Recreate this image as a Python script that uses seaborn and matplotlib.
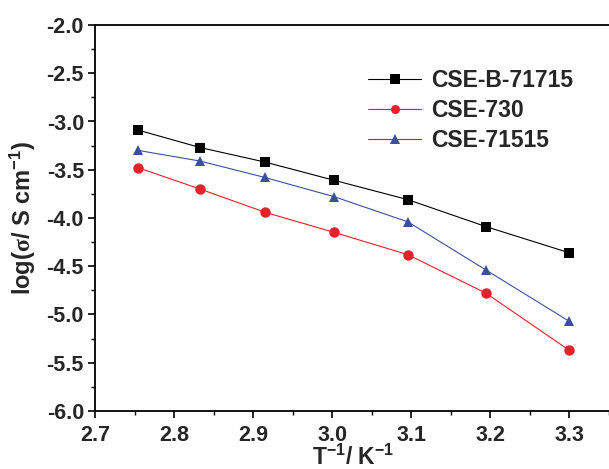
import matplotlib
matplotlib.use("Agg")
import matplotlib.pyplot as plt
import seaborn as sns
import pandas as pd
from matplotlib.ticker import AutoMinorLocator

# Data
inv_T = [2.755, 2.833, 2.915, 3.003, 3.096, 3.195, 3.300]
series_names = ["CSE-B-71715", "CSE-730", "CSE-71515"]
cse_b_71715 = [-3.09, -3.27, -3.42, -3.61, -3.81, -4.09, -4.36]
cse_730 = [-3.48, -3.70, -3.94, -4.15, -4.38, -4.78, -5.37]
cse_71515 = [-3.30, -3.41, -3.58, -3.78, -4.04, -4.54, -5.07]
x_ticks = [2.7, 2.8, 2.9, 3.0, 3.1, 3.2, 3.3]
y_ticks = [-2.0, -2.5, -3.0, -3.5, -4.0, -4.5, -5.0, -5.5, -6.0]

sns.set_style("ticks")
plt.rcParams["font.family"] = ["Liberation Sans", "DejaVu Sans"]
plt.rcParams["font.weight"] = "bold"
plt.rcParams["mathtext.fontset"] = "custom"
plt.rcParams["mathtext.rm"] = "Liberation Sans:bold"
plt.rcParams["mathtext.sf"] = "Liberation Serif"
plt.rcParams["mathtext.default"] = "regular"

df = pd.concat([
    pd.DataFrame({"x": inv_T, "y": vals, "series": name})
    for name, vals in zip(series_names, [cse_b_71715, cse_730, cse_71515])
])

W, H = 609, 469
fig = plt.figure(figsize=(W / 100, H / 100), dpi=100)
# axes extends to the right edge (reference is cropped there)
ax = fig.add_axes([95 / W, 1 - 411 / H, 516 / W, 386 / H])

palette = {"CSE-B-71715": "#000000", "CSE-730": "#e8202a", "CSE-71515": "#3a4fa0"}
markers = {"CSE-B-71715": "s", "CSE-730": "o", "CSE-71515": "^"}
sns.lineplot(data=df, x="x", y="y", hue="series", style="series",
             palette=palette, markers=markers, dashes=False,
             markersize=7.5, markeredgewidth=0, linewidth=0.8, ax=ax, legend=False)

handles = [plt.Line2D([], [], color=palette[n], marker=markers[n], markersize=6.5,
                      markeredgewidth=0, linewidth=0.8) for n in series_names]
leg = ax.legend(handles, series_names, loc="upper left",
                bbox_to_anchor=(357 / W, 1 - 58 / H), bbox_transform=fig.transFigure,
                frameon=False, borderpad=0, handlelength=2.3, labelspacing=0.3,
                handletextpad=0.45, prop={"weight": "bold", "size": 16.5})

ax.set_xlim(2.7, 3.353)
ax.set_ylim(-6.0, -2.0)
ax.set_xticks(x_ticks)
ax.set_yticks(y_ticks)
ax.set_xticklabels([f"{t:.1f}" for t in x_ticks], fontsize=15.5, fontweight="bold")
ax.set_yticklabels([f"{t:.1f}" for t in y_ticks], fontsize=15.5, fontweight="bold")
ax.xaxis.set_minor_locator(AutoMinorLocator(2))
ax.yaxis.set_minor_locator(AutoMinorLocator(2))
ax.tick_params(which="major", direction="out", length=5, width=1.2, color="black")
ax.tick_params(which="minor", direction="out", length=3, width=1.0, color="black")
ax.tick_params(axis="y", pad=3)
ax.tick_params(axis="x", pad=5)
for s in ["left", "bottom", "top"]:
    ax.spines[s].set_linewidth(1.3)
    ax.spines[s].set_color("black")
ax.spines["right"].set_visible(False)

ax.set_xlabel("T$^{-1}$/ K$^{-1}$", fontsize=16.5, fontweight="bold", labelpad=-1)
ax.set_ylabel(r"log($\mathsf{\sigma}$/ S cm$^{-1}$)", fontsize=17, fontweight="bold", labelpad=6)

fig.savefig("out.png", dpi=100)
